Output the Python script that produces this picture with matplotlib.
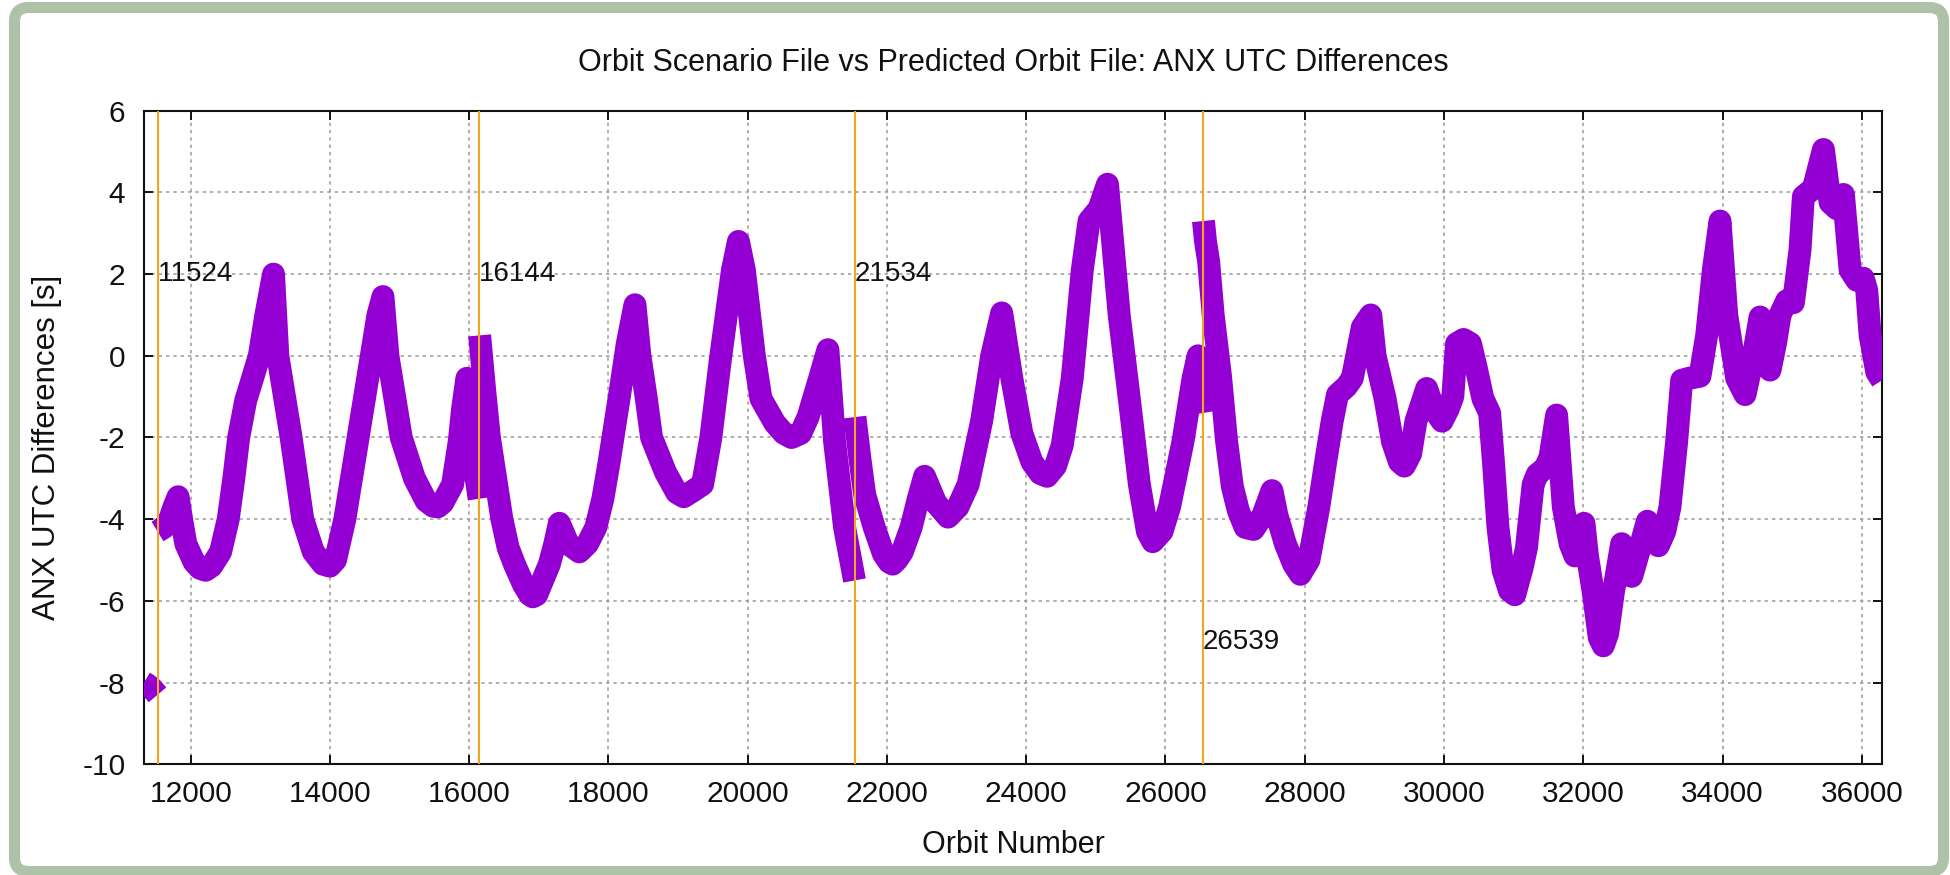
import matplotlib
matplotlib.use('Agg')
import matplotlib.pyplot as plt
from matplotlib.patches import FancyBboxPatch
from matplotlib.transforms import IdentityTransform

plt.rcParams['font.family'] = ['Liberation Sans', 'DejaVu Sans']
plt.rcParams['axes.unicode_minus'] = False

# orbit number / ANX UTC difference [s], one list pair per continuous stretch
orbit_a = [11330, 11380, 11450, 11524]
diff_a = [-8.0, -8.05, -8.15, -8.3]

orbit_b = [11524, 11620, 11700, 11760, 11820, 11870, 11930, 12050, 12130, 12214,
           12300, 12430, 12540, 12620, 12690, 12790, 12880, 12986, 13080, 13190,
           13252, 13443, 13610, 13762, 13900, 14000, 14080, 14214, 14405, 14595,
           14690, 14762, 14833, 15024, 15214, 15380, 15480, 15548, 15620, 15762,
           15857, 15905, 15967, 16040, 16100, 16144]
diff_b = [-4.3, -4.2, -4.0, -3.7, -3.45, -4.0, -4.6, -5.05, -5.2, -5.25,
          -5.15, -4.8, -4.0, -3.0, -2.0, -1.1, -0.6, 0.0, 1.0, 2.0,
          0.0, -2.0, -4.0, -4.8, -5.1, -5.15, -5.0, -4.0, -2.0, 0.0,
          1.0, 1.45, 0.0, -2.0, -3.0, -3.55, -3.68, -3.7, -3.6, -3.15,
          -2.1, -1.3, -0.55, -2.0, -3.0, -3.5]

orbit_c = [16150, 16220, 16290, 16380, 16470, 16560, 16650, 16780, 16870, 16914,
           16970, 17030, 17152, 17230, 17295, 17420, 17581, 17700, 17819, 17920,
           18010, 18152, 18271, 18381, 18452, 18540, 18619, 18819, 18980, 19081,
           19220, 19352, 19471, 19614, 19781, 19867, 19952, 20095, 20190, 20390,
           20520, 20629, 20760, 20867, 21033, 21152, 21248, 21391, 21534]
diff_c = [0.5, -0.8, -2.0, -3.0, -4.0, -4.7, -5.1, -5.6, -5.85, -5.9,
          -5.85, -5.6, -5.1, -4.6, -4.1, -4.6, -4.8, -4.6, -4.2, -3.5,
          -2.6, -1.05, 0.3, 1.25, 0.0, -1.0, -2.0, -2.85, -3.35, -3.45,
          -3.3, -3.15, -2.0, 0.0, 2.1, 2.8, 2.1, 0.0, -1.05, -1.65,
          -1.9, -2.0, -1.9, -1.5, -0.55, 0.15, -2.1, -4.2, -5.5]

orbit_d = [21540, 21610, 21680, 21817, 21950, 22030, 22082, 22140, 22220, 22347,
           22450, 22540, 22700, 22877, 23020, 23166, 23359, 23504, 23648, 23793,
           23937, 24082, 24200, 24299, 24420, 24516, 24661, 24805, 24902, 25046,
           25167, 25335, 25480, 25625, 25740, 25817, 25950, 26058, 26251, 26396,
           26468, 26500, 26539]
diff_d = [-1.5, -2.5, -3.4, -4.2, -4.85, -5.05, -5.1, -5.0, -4.8, -4.2,
          -3.5, -2.95, -3.6, -3.95, -3.7, -3.15, -1.6, 0.0, 1.05, -0.55,
          -1.9, -2.6, -2.88, -2.95, -2.7, -2.2, -0.55, 2.1, 3.3, 3.6,
          4.2, 1.0, -1.05, -3.15, -4.3, -4.55, -4.3, -3.7, -2.1, -0.55,
          0.0, -1.0, -1.4]

orbit_e = [26545, 26575, 26620, 26685, 26790, 26878, 26960, 27048, 27144, 27264,
           27400, 27529, 27600, 27721, 27840, 27937, 28060, 28202, 28300, 28394,
           28470, 28600, 28683, 28827, 28948, 29010, 29154, 29260, 29360, 29429,
           29520, 29597, 29751, 29850, 29972, 30060, 30126, 30180, 30280, 30380,
           30463, 30559, 30655, 30710, 30775, 30848, 30940, 31016, 31120, 31184,
           31280, 31340, 31450, 31520, 31617, 31713, 31810, 31880, 31950, 32010,
           32060, 32144, 32230, 32287, 32350, 32431, 32551, 32695, 32814, 32920,
           33078, 33170, 33245, 33341, 33413, 33520, 33676, 33772, 33868, 33964,
           34060, 34203, 34323, 34443, 34539, 34600, 34682, 34760, 34826, 34922,
           35018, 35113, 35161, 35305, 35449, 35545, 35640, 35736, 35832, 35928,
           36020, 36071, 36119, 36215, 36290]
diff_e = [3.3, 2.8, 2.3, 1.0, -0.5, -2.1, -3.2, -3.8, -4.2, -4.25,
          -3.9, -3.3, -3.9, -4.6, -5.1, -5.35, -5.0, -3.7, -2.6, -1.6,
          -0.95, -0.75, -0.55, 0.7, 1.0, 0.0, -1.05, -2.1, -2.6, -2.7,
          -2.4, -1.6, -0.8, -1.3, -1.6, -1.3, -1.0, 0.3, 0.4, 0.3,
          -0.3, -1.05, -1.4, -2.6, -4.2, -5.25, -5.75, -5.85, -5.2, -4.7,
          -3.15, -2.9, -2.75, -2.5, -1.45, -3.7, -4.6, -4.9, -4.5, -4.1,
          -4.9, -5.8, -6.9, -7.1, -6.8, -5.8, -4.6, -5.4, -4.7, -4.05,
          -4.65, -4.3, -3.7, -2.1, -0.6, -0.55, -0.5, 0.5, 2.1, 3.3,
          1.0, -0.55, -0.95, 0.0, 0.95, 0.2, -0.35, 0.3, 1.0, 1.35,
          1.3, 2.6, 3.9, 4.1, 5.05, 3.75, 3.6, 3.95, 2.1, 1.85,
          1.9, 1.6, 0.5, -0.4, -0.6]

event_orbits = [11524, 16144, 21534, 26539]
event_label_y = [2, 2, 2, -7]

W, H = 1950, 875
fig = plt.figure(figsize=(W / 100, H / 100), dpi=100)
ax = fig.add_axes([144 / W, 1 - 764.3 / H, 1738 / W, 653.6 / H])

purple = '#9400d3'
for xs, ys in [(orbit_a, diff_a), (orbit_b, diff_b), (orbit_c, diff_c),
               (orbit_d, diff_d), (orbit_e, diff_e)]:
    ax.plot(xs, ys, color=purple, lw=16.5, solid_joinstyle='round',
            solid_capstyle='butt', zorder=3)

for orb, ly in zip(event_orbits, event_label_y):
    ax.axvline(orb, color='#f2a51e', lw=1.5, zorder=4)
    ax.text(orb, ly, str(orb), ha='left', va='center', fontsize=20,
            color='#111111', zorder=5)

ax.set_xlim(11330, 36290)
ax.set_ylim(-10, 6)
ax.set_xticks(range(12000, 36001, 2000))
ax.set_yticks(range(-10, 7, 2))
ax.grid(True, color='#9a9a9a', lw=1.1, linestyle=(0, (2.2, 2.6)), zorder=1)
ax.set_axisbelow(True)
ax.tick_params(direction='in', length=6.7, width=1.4, top=True, right=True,
               labelsize=21.5, colors='#111111')
ax.tick_params(axis='x', pad=11)
ax.tick_params(axis='y', pad=13.5)
for s in ax.spines.values():
    s.set_linewidth(1.5)
    s.set_color('#111111')

cx = (144 + 1882) / 2 / W
fig.text(cx, 1 - 71 / H, 'Orbit Scenario File vs Predicted Orbit File: ANX UTC Differences',
         ha='center', va='baseline', fontsize=22, color='#111111')
fig.text(cx, 1 - 852.7 / H, 'Orbit Number', ha='center', va='baseline',
         fontsize=22, color='#111111')
fig.text(47 / W, 1 - 447 / H, 'ANX UTC Differences [s]', rotation=90,
         ha='center', va='center', fontsize=22.5, color='#111111')

# rounded green frame round the whole picture
frame = FancyBboxPatch((14.5, 3.5), 1929, 864,
                       boxstyle='round,pad=0,rounding_size=14',
                       transform=IdentityTransform(), fill=False,
                       edgecolor='#adc2a7', lw=8)
fig.add_artist(frame)

fig.savefig('out.png', dpi=100)
